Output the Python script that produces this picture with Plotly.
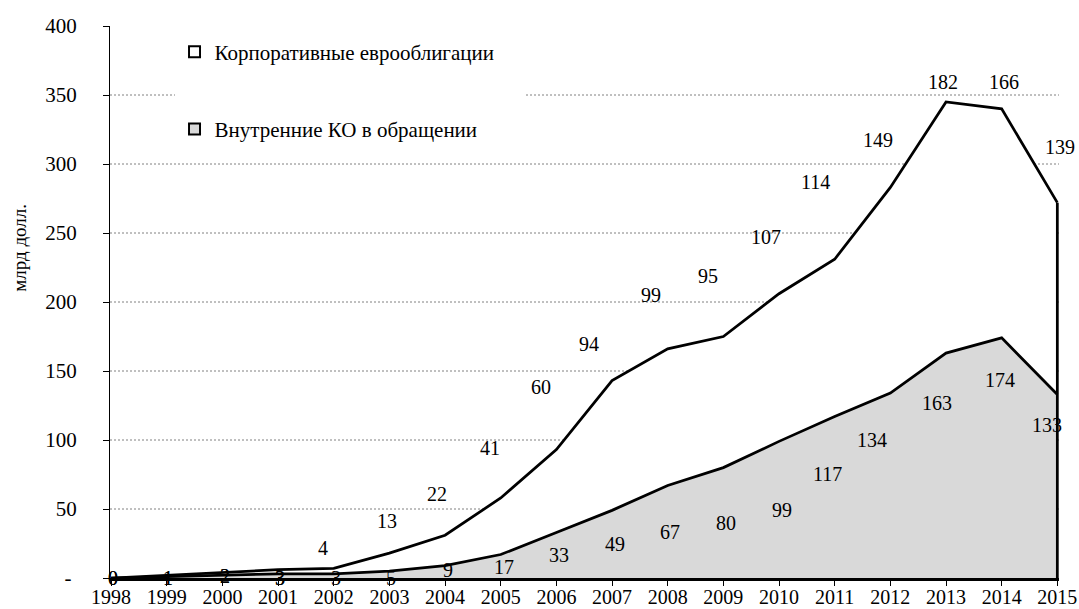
import plotly.graph_objects as go

# ---- data ----
years = list(range(1998, 2016))
internal_bonds = [0, 1, 2, 3, 3, 5, 9, 17, 33, 49, 67, 80, 99, 117, 134, 163, 174, 133]
euro_bonds = [0, 1, 2, 3, 4, 13, 22, 41, 60, 94, 99, 95, 107, 114, 149, 182, 166, 139]
y_ticks = [0, 50, 100, 150, 200, 250, 300, 350, 400]
y_ticktext = ["- ", "50", "100", "150", "200", "250", "300", "350", "400"]
grid_values = [50, 100, 150, 200, 250, 300, 350]
name_euro = "Корпоративные еврооблигации"
name_internal = "Внутренние КО в обращении"
y_title = "млрд долл."

# ---- label pixel offsets (style) ----
internal_dx = [2, 1, 3, 2, 2, 2, 3, 3.5, 3, 3, 2.5, 3, 3, -7.5, -18, -9, -1.5, -10]
internal_dy = [0, 1.4, 0.8, 4.1, 4.1, 6.9, 4.4, 12.5, 22.5, 33.6, 46.5, 55.4, 68.6, 57.5, 46.9, 49.9, 42.1, 30.5]
euro_dx = [2, 1, 3, 2, -11, -2, -8, -10.5, -15, -23, -16.5, -15, -13, -19.5, -12, -3, 2.5, 3]
euro_dy = [0, 2.8, 3.5, 8.3, -20.3, -32.2, -41.2, -50, -62.7, -36.7, -53.9, -60.5, -56.7, -77.2, -47.5, -20, -26.8, -55.6]

FONT = "Liberation Serif"
FS = 20
LW = 2.75

totals = [a + b for a, b in zip(internal_bonds, euro_bonds)]

fig = go.Figure()
fig.add_trace(go.Scatter(x=years, y=internal_bonds, stackgroup="s", mode="lines",
                         line=dict(color="black", width=LW), fillcolor="#d9d9d9",
                         showlegend=False, hoverinfo="skip"))
fig.add_trace(go.Scatter(x=years, y=euro_bonds, stackgroup="s", mode="lines",
                         line=dict(color="black", width=LW), fillcolor="white",
                         showlegend=False, hoverinfo="skip"))
# right closing edge of the stacked areas
fig.add_trace(go.Scatter(x=[years[-1], years[-1]], y=[0, totals[-1]], mode="lines",
                         line=dict(color="black", width=LW), showlegend=False, hoverinfo="skip"))

# legend entries
fig.add_trace(go.Scatter(x=[None], y=[None], mode="markers", name=name_euro + "\u00a0" * 5,
                         legendgroup="a",
                         marker=dict(symbol="square", size=11, color="white",
                                     line=dict(color="black", width=2))))
fig.add_trace(go.Scatter(x=[None], y=[None], mode="markers", name=name_internal, legendgroup="b",
                         marker=dict(symbol="square", size=11, color="#d9d9d9",
                                     line=dict(color="black", width=2))))

annotations = []
for i, yr in enumerate(years):
    annotations.append(dict(x=yr, y=internal_bonds[i], xref="x", yref="y", text=str(internal_bonds[i]),
                            showarrow=False, xanchor="center", yanchor="middle",
                            xshift=internal_dx[i], yshift=-internal_dy[i],
                            font=dict(family=FONT, size=FS, color="black")))
    annotations.append(dict(x=yr, y=totals[i], xref="x", yref="y", text=str(euro_bonds[i]),
                            showarrow=False, xanchor="center", yanchor="middle",
                            xshift=euro_dx[i], yshift=-euro_dy[i],
                            font=dict(family=FONT, size=FS, color="black")))
annotations.append(dict(x=-0.095, y=0.598, xref="paper", yref="paper", text=y_title,
                        textangle=-90, showarrow=False, xanchor="center", yanchor="middle",
                        font=dict(family=FONT, size=19, color="black")))

shapes = [dict(type="line", xref="paper", yref="y", x0=0, x1=1, y0=v, y1=v,
               line=dict(color="#808080", width=1, dash="2px,2px"), layer="below")
          for v in grid_values]

fig.update_layout(
    width=1079, height=609,
    margin=dict(l=110, r=20, t=26, b=31),
    paper_bgcolor="white", plot_bgcolor="white",
    font=dict(family=FONT, size=FS, color="black"),
    showlegend=True,
    legend=dict(x=0.068, y=0.99, xanchor="left", yanchor="top", bgcolor="white",
                traceorder="grouped", tracegroupgap=47,
                font=dict(family=FONT, size=21, color="black")),
    annotations=annotations,
    shapes=shapes,
    xaxis=dict(range=[1997.98, 2015.03], tickvals=years, ticktext=[str(y) for y in years],
               automargin=False,
               showgrid=False, zeroline=False, showline=True, linecolor="black", linewidth=2.5,
               ticks="outside", ticklen=5, tickcolor="black", tickwidth=1,
               ticklabelstandoff=-6,
               tickfont=dict(family=FONT, size=FS, color="black")),
    yaxis=dict(range=[0, 400], tickvals=y_ticks, ticktext=y_ticktext, automargin=False,
               showgrid=False, zeroline=False, showline=True, linecolor="black", linewidth=1,
               ticks="outside", ticklen=6, tickcolor="black", tickwidth=1,
               ticklabelstandoff=22,
               tickfont=dict(family=FONT, size=21, color="black")),
)

fig.write_html("out.html", config={"displayModeBar": False},
               post_script="document.body.style.margin='0';")
